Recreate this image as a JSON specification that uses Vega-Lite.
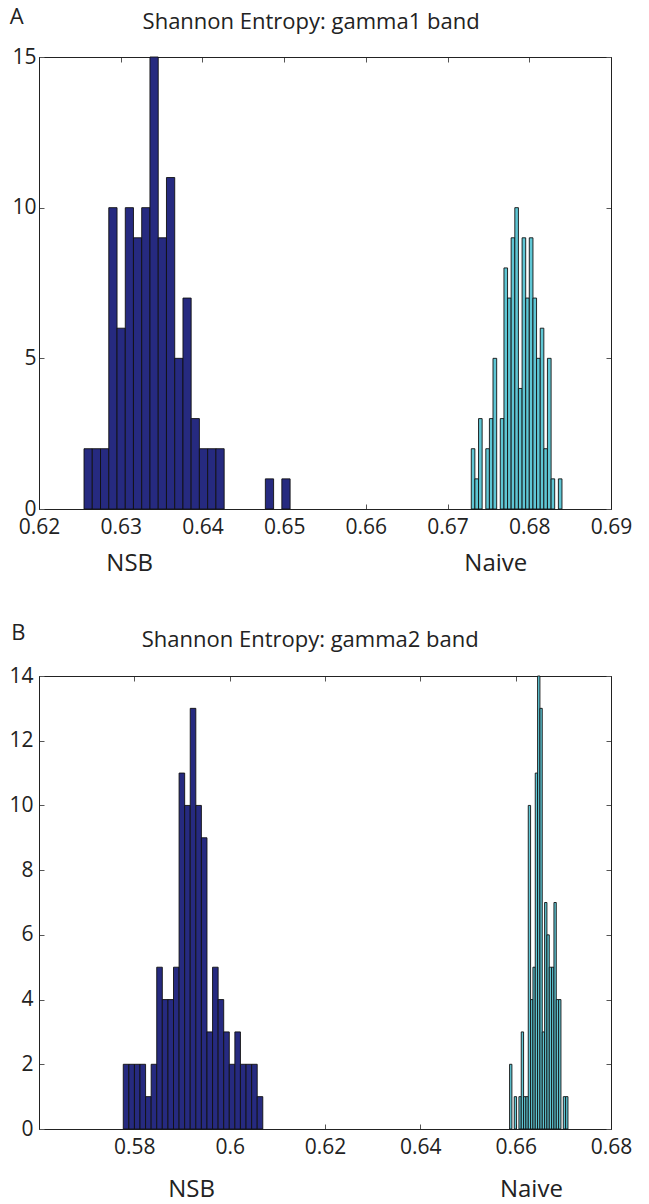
{
  "$schema": "https://vega.github.io/schema/vega-lite/v6.json",
  "padding": {"left": 8, "top": 5, "right": 10, "bottom": 5},
  "background": "white",
  "config": {
    "font": "Open Sans",
    "view": {"stroke": "#222", "strokeWidth": 1},
    "axis": {"grid": false, "domain": true, "domainColor": "#222", "tickColor": "#555", "tickSize": -5, "labelFontSize": 21, "labelColor": "#222", "labelFont": "Open Sans", "labelFlush": false, "labelOverlap": false}
  },
  "datasets": {
    "bars": [
      {"panel": "A", "method": "NSB", "x0": 0.62551, "x1": 0.62652, "n": 2},
      {"panel": "A", "method": "NSB", "x0": 0.62652, "x1": 0.62753, "n": 2},
      {"panel": "A", "method": "NSB", "x0": 0.62753, "x1": 0.62854, "n": 2},
      {"panel": "A", "method": "NSB", "x0": 0.62854, "x1": 0.62955, "n": 10},
      {"panel": "A", "method": "NSB", "x0": 0.62955, "x1": 0.63056, "n": 6},
      {"panel": "A", "method": "NSB", "x0": 0.63056, "x1": 0.63156, "n": 10},
      {"panel": "A", "method": "NSB", "x0": 0.63156, "x1": 0.63257, "n": 9},
      {"panel": "A", "method": "NSB", "x0": 0.63257, "x1": 0.63358, "n": 10},
      {"panel": "A", "method": "NSB", "x0": 0.63358, "x1": 0.63459, "n": 15},
      {"panel": "A", "method": "NSB", "x0": 0.63459, "x1": 0.63560, "n": 9},
      {"panel": "A", "method": "NSB", "x0": 0.63560, "x1": 0.63661, "n": 11},
      {"panel": "A", "method": "NSB", "x0": 0.63661, "x1": 0.63762, "n": 5},
      {"panel": "A", "method": "NSB", "x0": 0.63762, "x1": 0.63862, "n": 7},
      {"panel": "A", "method": "NSB", "x0": 0.63862, "x1": 0.63963, "n": 3},
      {"panel": "A", "method": "NSB", "x0": 0.63963, "x1": 0.64064, "n": 2},
      {"panel": "A", "method": "NSB", "x0": 0.64064, "x1": 0.64165, "n": 2},
      {"panel": "A", "method": "NSB", "x0": 0.64165, "x1": 0.64266, "n": 2},
      {"panel": "A", "method": "NSB", "x0": 0.64770, "x1": 0.64871, "n": 1},
      {"panel": "A", "method": "NSB", "x0": 0.64972, "x1": 0.65073, "n": 1},
      {"panel": "A", "method": "Naive", "x0": 0.67290, "x1": 0.67334, "n": 2},
      {"panel": "A", "method": "Naive", "x0": 0.67334, "x1": 0.67379, "n": 1},
      {"panel": "A", "method": "Naive", "x0": 0.67379, "x1": 0.67423, "n": 3},
      {"panel": "A", "method": "Naive", "x0": 0.67468, "x1": 0.67512, "n": 2},
      {"panel": "A", "method": "Naive", "x0": 0.67512, "x1": 0.67556, "n": 3},
      {"panel": "A", "method": "Naive", "x0": 0.67556, "x1": 0.67601, "n": 5},
      {"panel": "A", "method": "Naive", "x0": 0.67645, "x1": 0.67690, "n": 3},
      {"panel": "A", "method": "Naive", "x0": 0.67690, "x1": 0.67734, "n": 8},
      {"panel": "A", "method": "Naive", "x0": 0.67734, "x1": 0.67778, "n": 7},
      {"panel": "A", "method": "Naive", "x0": 0.67778, "x1": 0.67823, "n": 9},
      {"panel": "A", "method": "Naive", "x0": 0.67823, "x1": 0.67867, "n": 10},
      {"panel": "A", "method": "Naive", "x0": 0.67867, "x1": 0.67912, "n": 4},
      {"panel": "A", "method": "Naive", "x0": 0.67912, "x1": 0.67956, "n": 9},
      {"panel": "A", "method": "Naive", "x0": 0.67956, "x1": 0.68000, "n": 7},
      {"panel": "A", "method": "Naive", "x0": 0.68000, "x1": 0.68045, "n": 9},
      {"panel": "A", "method": "Naive", "x0": 0.68045, "x1": 0.68089, "n": 7},
      {"panel": "A", "method": "Naive", "x0": 0.68089, "x1": 0.68134, "n": 5},
      {"panel": "A", "method": "Naive", "x0": 0.68134, "x1": 0.68178, "n": 6},
      {"panel": "A", "method": "Naive", "x0": 0.68178, "x1": 0.68222, "n": 2},
      {"panel": "A", "method": "Naive", "x0": 0.68222, "x1": 0.68267, "n": 5},
      {"panel": "A", "method": "Naive", "x0": 0.68267, "x1": 0.68311, "n": 1},
      {"panel": "A", "method": "Naive", "x0": 0.68356, "x1": 0.68400, "n": 1},
      {"panel": "B", "method": "NSB", "x0": 0.57768, "x1": 0.57885, "n": 2},
      {"panel": "B", "method": "NSB", "x0": 0.57885, "x1": 0.58002, "n": 2},
      {"panel": "B", "method": "NSB", "x0": 0.58002, "x1": 0.58119, "n": 2},
      {"panel": "B", "method": "NSB", "x0": 0.58119, "x1": 0.58236, "n": 2},
      {"panel": "B", "method": "NSB", "x0": 0.58236, "x1": 0.58353, "n": 1},
      {"panel": "B", "method": "NSB", "x0": 0.58353, "x1": 0.58470, "n": 2},
      {"panel": "B", "method": "NSB", "x0": 0.58470, "x1": 0.58587, "n": 5},
      {"panel": "B", "method": "NSB", "x0": 0.58587, "x1": 0.58705, "n": 4},
      {"panel": "B", "method": "NSB", "x0": 0.58705, "x1": 0.58822, "n": 4},
      {"panel": "B", "method": "NSB", "x0": 0.58822, "x1": 0.58939, "n": 5},
      {"panel": "B", "method": "NSB", "x0": 0.58939, "x1": 0.59056, "n": 11},
      {"panel": "B", "method": "NSB", "x0": 0.59056, "x1": 0.59173, "n": 10},
      {"panel": "B", "method": "NSB", "x0": 0.59173, "x1": 0.59290, "n": 13},
      {"panel": "B", "method": "NSB", "x0": 0.59290, "x1": 0.59407, "n": 10},
      {"panel": "B", "method": "NSB", "x0": 0.59407, "x1": 0.59524, "n": 9},
      {"panel": "B", "method": "NSB", "x0": 0.59524, "x1": 0.59641, "n": 3},
      {"panel": "B", "method": "NSB", "x0": 0.59641, "x1": 0.59758, "n": 5},
      {"panel": "B", "method": "NSB", "x0": 0.59758, "x1": 0.59875, "n": 4},
      {"panel": "B", "method": "NSB", "x0": 0.59875, "x1": 0.59992, "n": 3},
      {"panel": "B", "method": "NSB", "x0": 0.59992, "x1": 0.60109, "n": 2},
      {"panel": "B", "method": "NSB", "x0": 0.60109, "x1": 0.60226, "n": 3},
      {"panel": "B", "method": "NSB", "x0": 0.60226, "x1": 0.60344, "n": 2},
      {"panel": "B", "method": "NSB", "x0": 0.60344, "x1": 0.60461, "n": 2},
      {"panel": "B", "method": "NSB", "x0": 0.60461, "x1": 0.60578, "n": 2},
      {"panel": "B", "method": "NSB", "x0": 0.60578, "x1": 0.60695, "n": 1},
      {"panel": "B", "method": "Naive", "x0": 0.65872, "x1": 0.65921, "n": 2},
      {"panel": "B", "method": "Naive", "x0": 0.65970, "x1": 0.66019, "n": 1},
      {"panel": "B", "method": "Naive", "x0": 0.66068, "x1": 0.66117, "n": 1},
      {"panel": "B", "method": "Naive", "x0": 0.66117, "x1": 0.66166, "n": 3},
      {"panel": "B", "method": "Naive", "x0": 0.66166, "x1": 0.66215, "n": 1},
      {"panel": "B", "method": "Naive", "x0": 0.66215, "x1": 0.66264, "n": 1},
      {"panel": "B", "method": "Naive", "x0": 0.66264, "x1": 0.66313, "n": 10},
      {"panel": "B", "method": "Naive", "x0": 0.66313, "x1": 0.66362, "n": 4},
      {"panel": "B", "method": "Naive", "x0": 0.66362, "x1": 0.66411, "n": 5},
      {"panel": "B", "method": "Naive", "x0": 0.66411, "x1": 0.66460, "n": 11},
      {"panel": "B", "method": "Naive", "x0": 0.66460, "x1": 0.66509, "n": 14},
      {"panel": "B", "method": "Naive", "x0": 0.66509, "x1": 0.66558, "n": 13},
      {"panel": "B", "method": "Naive", "x0": 0.66558, "x1": 0.66607, "n": 3},
      {"panel": "B", "method": "Naive", "x0": 0.66607, "x1": 0.66656, "n": 7},
      {"panel": "B", "method": "Naive", "x0": 0.66656, "x1": 0.66705, "n": 6},
      {"panel": "B", "method": "Naive", "x0": 0.66705, "x1": 0.66754, "n": 5},
      {"panel": "B", "method": "Naive", "x0": 0.66754, "x1": 0.66803, "n": 5},
      {"panel": "B", "method": "Naive", "x0": 0.66803, "x1": 0.66852, "n": 7},
      {"panel": "B", "method": "Naive", "x0": 0.66852, "x1": 0.66901, "n": 4},
      {"panel": "B", "method": "Naive", "x0": 0.66901, "x1": 0.66950, "n": 4},
      {"panel": "B", "method": "Naive", "x0": 0.66999, "x1": 0.67048, "n": 1},
      {"panel": "B", "method": "Naive", "x0": 0.67048, "x1": 0.67097, "n": 1}
    ],
    "labels": [
      {"panel": "A", "kind": "letter", "label": "A", "x": 0.61727, "y": 16.33},
      {"panel": "A", "kind": "title", "label": "Shannon Entropy: gamma1 band", "x": 0.6533, "y": 16.16},
      {"panel": "A", "kind": "method", "label": "NSB", "x": 0.6311, "y": -1.83},
      {"panel": "A", "kind": "method", "label": "Naive", "x": 0.6759, "y": -1.83},
      {"panel": "B", "kind": "letter", "label": "B", "x": 0.55566, "y": 15.33},
      {"panel": "B", "kind": "title", "label": "Shannon Entropy: gamma2 band", "x": 0.6169, "y": 15.11},
      {"panel": "B", "kind": "method", "label": "NSB", "x": 0.592, "y": -1.9},
      {"panel": "B", "kind": "method", "label": "Naive", "x": 0.6633, "y": -1.9}
    ]
  },
  "spacing": 44,
  "vconcat": [
    {
      "width": 572,
      "height": 452,
      "resolve": {"axis": {"x": "independent", "y": "independent"}},
      "layer": [
        {
          "data": {"name": "bars"},
          "transform": [{"filter": "datum.panel == 'A'"}],
          "mark": {"type": "bar", "stroke": "#111", "strokeWidth": 0.9},
          "encoding": {
            "x": {"field": "x0", "type": "quantitative", "scale": {"domain": [0.62, 0.69], "nice": false, "zero": false}, "axis": {"orient": "bottom", "title": null, "values": [0.62, 0.63, 0.64, 0.65, 0.66, 0.67, 0.68, 0.69], "format": "~g", "labelPadding": 12}},
            "x2": {"field": "x1"},
            "y": {"field": "n", "type": "quantitative", "scale": {"domain": [0, 15], "nice": false}, "axis": {"orient": "left", "title": null, "values": [0, 5, 10, 15], "labelPadding": 8}},
            "y2": {"datum": 0},
            "color": {"field": "method", "type": "nominal", "scale": {"domain": ["NSB", "Naive"], "range": ["#262a80", "#5fc6d4"]}, "legend": null}
          }
        },
        {
          "data": {"name": "bars"},
          "transform": [{"filter": "datum.panel == 'A'"}],
          "mark": {"type": "point", "opacity": 0},
          "encoding": {
            "x": {"field": "x0", "type": "quantitative", "axis": {"orient": "top", "title": null, "labels": false, "values": [0.62, 0.63, 0.64, 0.65, 0.66, 0.67, 0.68, 0.69]}},
            "y": {"field": "n", "type": "quantitative", "axis": {"orient": "right", "title": null, "labels": false, "values": [0, 5, 10, 15]}}
          }
        },
        {
          "data": {"name": "labels"},
          "transform": [{"filter": "datum.panel == 'A' && datum.kind != 'method'"}],
          "mark": {"type": "text", "fontSize": 22, "color": "#222", "align": "center", "baseline": "middle"},
          "encoding": {
            "x": {"field": "x", "type": "quantitative", "axis": null},
            "y": {"field": "y", "type": "quantitative", "axis": null},
            "text": {"field": "label"}
          }
        },
        {
          "data": {"name": "labels"},
          "transform": [{"filter": "datum.panel == 'A' && datum.kind == 'method'"}],
          "mark": {"type": "text", "fontSize": 24, "color": "#222", "align": "center", "baseline": "middle"},
          "encoding": {
            "x": {"field": "x", "type": "quantitative", "axis": null},
            "y": {"field": "y", "type": "quantitative", "axis": null},
            "text": {"field": "label"}
          }
        }
      ]
    },
    {
      "width": 572,
      "height": 453,
      "resolve": {"axis": {"x": "independent", "y": "independent"}},
      "layer": [
        {
          "data": {"name": "bars"},
          "transform": [{"filter": "datum.panel == 'B'"}],
          "mark": {"type": "bar", "stroke": "#111", "strokeWidth": 0.9},
          "encoding": {
            "x": {"field": "x0", "type": "quantitative", "scale": {"domain": [0.56, 0.68], "nice": false, "zero": false}, "axis": {"orient": "bottom", "title": null, "values": [0.58, 0.6, 0.62, 0.64, 0.66, 0.68], "format": "~g", "labelPadding": 12}},
            "x2": {"field": "x1"},
            "y": {"field": "n", "type": "quantitative", "scale": {"domain": [0, 14], "nice": false}, "axis": {"orient": "left", "title": null, "values": [0, 2, 4, 6, 8, 10, 12, 14], "labelPadding": 11}},
            "y2": {"datum": 0},
            "color": {"field": "method", "type": "nominal", "scale": {"domain": ["NSB", "Naive"], "range": ["#262a80", "#5fc6d4"]}, "legend": null}
          }
        },
        {
          "data": {"name": "bars"},
          "transform": [{"filter": "datum.panel == 'B'"}],
          "mark": {"type": "point", "opacity": 0},
          "encoding": {
            "x": {"field": "x0", "type": "quantitative", "axis": {"orient": "top", "title": null, "labels": false, "values": [0.58, 0.6, 0.62, 0.64, 0.66, 0.68]}},
            "y": {"field": "n", "type": "quantitative", "axis": {"orient": "right", "title": null, "labels": false, "values": [0, 2, 4, 6, 8, 10, 12, 14]}}
          }
        },
        {
          "data": {"name": "labels"},
          "transform": [{"filter": "datum.panel == 'B' && datum.kind != 'method'"}],
          "mark": {"type": "text", "fontSize": 22, "color": "#222", "align": "center", "baseline": "middle"},
          "encoding": {
            "x": {"field": "x", "type": "quantitative", "axis": null},
            "y": {"field": "y", "type": "quantitative", "axis": null},
            "text": {"field": "label"}
          }
        },
        {
          "data": {"name": "labels"},
          "transform": [{"filter": "datum.panel == 'B' && datum.kind == 'method'"}],
          "mark": {"type": "text", "fontSize": 24, "color": "#222", "align": "center", "baseline": "middle"},
          "encoding": {
            "x": {"field": "x", "type": "quantitative", "axis": null},
            "y": {"field": "y", "type": "quantitative", "axis": null},
            "text": {"field": "label"}
          }
        }
      ]
    }
  ]
}
